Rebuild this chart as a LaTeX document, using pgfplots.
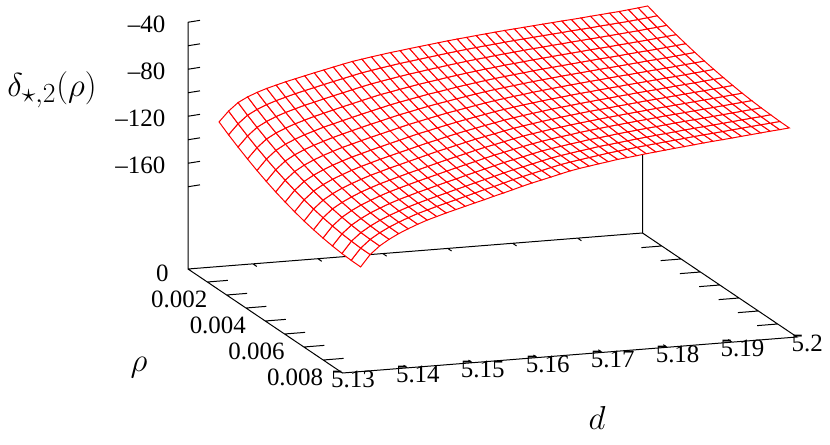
\documentclass[border=0pt]{standalone}
\usepackage{fontspec}
\setmainfont{Liberation Serif}
\usepackage{pgfplots}
\pgfplotsset{compat=1.18}
\begin{document}
\begin{tikzpicture}
\useasboundingbox (0,0) rectangle (622.5pt,333.75pt);
\begin{axis}[
  at={(141pt,54pt)},anchor=south west,
  x={(4869.6pt,385.7pt)},y={(14484.4pt,-9750pt)},z={(0pt,0.88125pt)},
  xmin=5.13,xmax=5.2,ymin=0,ymax=0.008,zmin=-250,zmax=-40,
  clip=false,
  axis line style={draw=none},
  major tick length=0pt,
  scaled ticks=false,
  xtick={5.13,5.14,5.15,5.16,5.17,5.18,5.19,5.2},
  xticklabels={5.13,5.14,5.15,5.16,5.17,5.18,5.19,5.2},
  ytick={0,0.002,0.004,0.006,0.008},
  yticklabels={0,0.002,0.004,0.006,0.008},
  ztick={-40,-80,-120,-160},
  zticklabels={--40,--80,--120,--160},
  tick label style={font=\fontsize{18.7}{22}\selectfont},
  xticklabel style={xshift=2pt,yshift=6pt},
  yticklabel style={anchor=east,xshift=-11pt,yshift=-3pt},
  zticklabel style={anchor=east,xshift=-13.5pt,yshift=-1.5pt},
  xlabel={\fontsize{24.88}{28}\selectfont $d$},
  ylabel={\fontsize{24.88}{28}\selectfont $\rho$},
  zlabel={\fontsize{24.88}{28}\selectfont $\delta_{\star,2}(\rho)$},
  every axis x label/.style={at={(rel axis cs:0.3694,1.5605,0)},anchor=center},
  every axis y label/.style={at={(rel axis cs:-0.386,0.8183,0)},anchor=center},
  every axis z label/.style={at={(rel axis cs:-0.2992,0,0.769)},anchor=center,rotate=0},
]
\addplot3[black,line width=0.75pt,unbounded coords=jump] coordinates {
(5.13,0,-40)(5.13,0,-250)(5.2,0,-250)(5.2,0.008,-250)(5.13,0.008,-250)(5.13,0,-250)
(5.13,0,nan)
(5.2,0,-250)(5.2,0,-70)
(5.2,0,nan)
(5.13,0,-60)(5.13185,0,-59.19)(5.13,0,nan)
(5.13,0,-80)(5.13185,0,-79.19)(5.13,0,nan)
(5.13,0,-100)(5.13185,0,-99.19)(5.13,0,nan)
(5.13,0,-120)(5.13185,0,-119.19)(5.13,0,nan)
(5.13,0,-140)(5.13185,0,-139.19)(5.13,0,nan)
(5.13,0,-160)(5.13185,0,-159.19)(5.13,0,nan)
(5.13,0,-180)(5.13185,0,-179.19)(5.13,0,nan)
(5.13,0,-40)(5.13185,0,-39.19)(5.13,0,nan)
(5.13,0.001,-250)(5.13316,0.001,-250)(5.13,0,nan)
(5.13,0.002,-250)(5.13316,0.002,-250)(5.13,0,nan)
(5.13,0.003,-250)(5.13316,0.003,-250)(5.13,0,nan)
(5.13,0.004,-250)(5.13316,0.004,-250)(5.13,0,nan)
(5.13,0.005,-250)(5.13316,0.005,-250)(5.13,0,nan)
(5.13,0.006,-250)(5.13316,0.006,-250)(5.13,0,nan)
(5.13,0.007,-250)(5.13316,0.007,-250)(5.13,0,nan)
(5.2,0.001,-250)(5.19684,0.001,-250)(5.13,0,nan)
(5.2,0.002,-250)(5.19684,0.002,-250)(5.13,0,nan)
(5.2,0.003,-250)(5.19684,0.003,-250)(5.13,0,nan)
(5.2,0.004,-250)(5.19684,0.004,-250)(5.13,0,nan)
(5.2,0.005,-250)(5.19684,0.005,-250)(5.13,0,nan)
(5.2,0.006,-250)(5.19684,0.006,-250)(5.13,0,nan)
(5.2,0.007,-250)(5.19684,0.007,-250)(5.13,0,nan)
(5.14,0,-250)(5.14,0.0002,-250)(5.13,0,nan)
(5.15,0,-250)(5.15,0.0002,-250)(5.13,0,nan)
(5.16,0,-250)(5.16,0.0002,-250)(5.13,0,nan)
(5.17,0,-250)(5.17,0.0002,-250)(5.13,0,nan)
(5.18,0,-250)(5.18,0.0002,-250)(5.13,0,nan)
(5.19,0,-250)(5.19,0.0002,-250)(5.13,0,nan)
(5.14,0.008,-250)(5.14,0.0078,-250)(5.13,0,nan)
(5.15,0.008,-250)(5.15,0.0078,-250)(5.13,0,nan)
(5.16,0.008,-250)(5.16,0.0078,-250)(5.13,0,nan)
(5.17,0.008,-250)(5.17,0.0078,-250)(5.13,0,nan)
(5.18,0.008,-250)(5.18,0.0078,-250)(5.13,0,nan)
(5.19,0.008,-250)(5.19,0.0078,-250)
};
\addplot3[surf,shader=faceted,colormap={allwhite}{color=(white) color=(white)},
  faceted color=red,line width=0.75pt,mesh/ordering=y varies,mesh/rows=16,mesh/cols=46] coordinates {
(5.13398,0.00027,-123.6)(5.13398,0.00076,-129.1)(5.13398,0.00125,-134.1)(5.13398,0.00174,-138.8)(5.13398,0.00223,-143.2)(5.13398,0.00271,-147.1)(5.13398,0.00320,-150.7)(5.13398,0.00369,-153.9)(5.13398,0.00418,-156.7)(5.13398,0.00467,-159.2)(5.13398,0.00516,-161.2)(5.13398,0.00565,-162.9)(5.13398,0.00614,-164.2)(5.13398,0.00663,-165.2)(5.13398,0.00711,-165.7)(5.13398,0.00760,-165.9)
(5.13545,0.00027,-115.0)(5.13545,0.00076,-120.3)(5.13545,0.00125,-125.3)(5.13545,0.00174,-129.9)(5.13545,0.00223,-134.1)(5.13545,0.00271,-137.9)(5.13545,0.00320,-141.4)(5.13545,0.00369,-144.5)(5.13545,0.00418,-147.2)(5.13545,0.00467,-149.6)(5.13545,0.00516,-151.6)(5.13545,0.00565,-153.2)(5.13545,0.00614,-154.5)(5.13545,0.00663,-155.3)(5.13545,0.00711,-155.9)(5.13545,0.00760,-156.0)
(5.13691,0.00027,-108.4)(5.13691,0.00076,-113.7)(5.13691,0.00125,-118.6)(5.13691,0.00174,-123.1)(5.13691,0.00223,-127.3)(5.13691,0.00271,-131.1)(5.13691,0.00320,-134.6)(5.13691,0.00369,-137.6)(5.13691,0.00418,-140.4)(5.13691,0.00467,-142.7)(5.13691,0.00516,-144.7)(5.13691,0.00565,-146.4)(5.13691,0.00614,-147.7)(5.13691,0.00663,-148.6)(5.13691,0.00711,-149.1)(5.13691,0.00760,-149.3)
(5.13838,0.00027,-104.2)(5.13838,0.00076,-109.4)(5.13838,0.00125,-114.2)(5.13838,0.00174,-118.6)(5.13838,0.00223,-122.7)(5.13838,0.00271,-126.4)(5.13838,0.00320,-129.8)(5.13838,0.00369,-132.9)(5.13838,0.00418,-135.5)(5.13838,0.00467,-137.8)(5.13838,0.00516,-139.8)(5.13838,0.00565,-141.4)(5.13838,0.00614,-142.7)(5.13838,0.00663,-143.6)(5.13838,0.00711,-144.1)(5.13838,0.00760,-144.3)
(5.13985,0.00027,-101.0)(5.13985,0.00076,-106.0)(5.13985,0.00125,-110.7)(5.13985,0.00174,-115.1)(5.13985,0.00223,-119.1)(5.13985,0.00271,-122.7)(5.13985,0.00320,-126.0)(5.13985,0.00369,-129.0)(5.13985,0.00418,-131.6)(5.13985,0.00467,-133.8)(5.13985,0.00516,-135.8)(5.13985,0.00565,-137.3)(5.13985,0.00614,-138.5)(5.13985,0.00663,-139.4)(5.13985,0.00711,-139.9)(5.13985,0.00760,-140.1)
(5.14132,0.00027,-98.3)(5.14132,0.00076,-103.2)(5.14132,0.00125,-107.8)(5.14132,0.00174,-112.1)(5.14132,0.00223,-116.0)(5.14132,0.00271,-119.6)(5.14132,0.00320,-122.8)(5.14132,0.00369,-125.7)(5.14132,0.00418,-128.3)(5.14132,0.00467,-130.5)(5.14132,0.00516,-132.3)(5.14132,0.00565,-133.9)(5.14132,0.00614,-135.1)(5.14132,0.00663,-135.9)(5.14132,0.00711,-136.4)(5.14132,0.00760,-136.6)
(5.14278,0.00027,-96.1)(5.14278,0.00076,-100.9)(5.14278,0.00125,-105.4)(5.14278,0.00174,-109.6)(5.14278,0.00223,-113.4)(5.14278,0.00271,-116.9)(5.14278,0.00320,-120.0)(5.14278,0.00369,-122.8)(5.14278,0.00418,-125.3)(5.14278,0.00467,-127.5)(5.14278,0.00516,-129.3)(5.14278,0.00565,-130.8)(5.14278,0.00614,-131.9)(5.14278,0.00663,-132.8)(5.14278,0.00711,-133.2)(5.14278,0.00760,-133.4)
(5.14425,0.00027,-93.9)(5.14425,0.00076,-98.6)(5.14425,0.00125,-103.0)(5.14425,0.00174,-107.1)(5.14425,0.00223,-110.8)(5.14425,0.00271,-114.3)(5.14425,0.00320,-117.3)(5.14425,0.00369,-120.1)(5.14425,0.00418,-122.6)(5.14425,0.00467,-124.7)(5.14425,0.00516,-126.5)(5.14425,0.00565,-127.9)(5.14425,0.00614,-129.1)(5.14425,0.00663,-129.9)(5.14425,0.00711,-130.3)(5.14425,0.00760,-130.5)
(5.14572,0.00027,-92.0)(5.14572,0.00076,-96.6)(5.14572,0.00125,-101.0)(5.14572,0.00174,-105.0)(5.14572,0.00223,-108.7)(5.14572,0.00271,-112.0)(5.14572,0.00320,-115.1)(5.14572,0.00369,-117.8)(5.14572,0.00418,-120.2)(5.14572,0.00467,-122.3)(5.14572,0.00516,-124.1)(5.14572,0.00565,-125.5)(5.14572,0.00614,-126.6)(5.14572,0.00663,-127.4)(5.14572,0.00711,-127.9)(5.14572,0.00760,-128.1)
(5.14718,0.00027,-90.1)(5.14718,0.00076,-94.7)(5.14718,0.00125,-98.9)(5.14718,0.00174,-102.9)(5.14718,0.00223,-106.5)(5.14718,0.00271,-109.8)(5.14718,0.00320,-112.8)(5.14718,0.00369,-115.5)(5.14718,0.00418,-117.8)(5.14718,0.00467,-119.9)(5.14718,0.00516,-121.7)(5.14718,0.00565,-123.1)(5.14718,0.00614,-124.2)(5.14718,0.00663,-125.0)(5.14718,0.00711,-125.5)(5.14718,0.00760,-125.7)
(5.14865,0.00027,-88.2)(5.14865,0.00076,-92.7)(5.14865,0.00125,-96.9)(5.14865,0.00174,-100.8)(5.14865,0.00223,-104.4)(5.14865,0.00271,-107.6)(5.14865,0.00320,-110.6)(5.14865,0.00369,-113.3)(5.14865,0.00418,-115.6)(5.14865,0.00467,-117.7)(5.14865,0.00516,-119.4)(5.14865,0.00565,-120.8)(5.14865,0.00614,-122.0)(5.14865,0.00663,-122.8)(5.14865,0.00711,-123.3)(5.14865,0.00760,-123.5)
(5.15012,0.00027,-86.4)(5.15012,0.00076,-90.8)(5.15012,0.00125,-95.0)(5.15012,0.00174,-98.8)(5.15012,0.00223,-102.3)(5.15012,0.00271,-105.5)(5.15012,0.00320,-108.5)(5.15012,0.00369,-111.1)(5.15012,0.00418,-113.4)(5.15012,0.00467,-115.5)(5.15012,0.00516,-117.2)(5.15012,0.00565,-118.6)(5.15012,0.00614,-119.7)(5.15012,0.00663,-120.6)(5.15012,0.00711,-121.1)(5.15012,0.00760,-121.3)
(5.15159,0.00027,-84.6)(5.15159,0.00076,-89.0)(5.15159,0.00125,-93.0)(5.15159,0.00174,-96.8)(5.15159,0.00223,-100.3)(5.15159,0.00271,-103.5)(5.15159,0.00320,-106.4)(5.15159,0.00369,-109.0)(5.15159,0.00418,-111.3)(5.15159,0.00467,-113.3)(5.15159,0.00516,-115.0)(5.15159,0.00565,-116.4)(5.15159,0.00614,-117.5)(5.15159,0.00663,-118.3)(5.15159,0.00711,-118.9)(5.15159,0.00760,-119.1)
(5.15305,0.00027,-82.8)(5.15305,0.00076,-87.1)(5.15305,0.00125,-91.1)(5.15305,0.00174,-94.8)(5.15305,0.00223,-98.3)(5.15305,0.00271,-101.4)(5.15305,0.00320,-104.3)(5.15305,0.00369,-106.8)(5.15305,0.00418,-109.1)(5.15305,0.00467,-111.1)(5.15305,0.00516,-112.8)(5.15305,0.00565,-114.2)(5.15305,0.00614,-115.4)(5.15305,0.00663,-116.2)(5.15305,0.00711,-116.7)(5.15305,0.00760,-117.0)
(5.15452,0.00027,-81.1)(5.15452,0.00076,-85.3)(5.15452,0.00125,-89.3)(5.15452,0.00174,-92.9)(5.15452,0.00223,-96.3)(5.15452,0.00271,-99.4)(5.15452,0.00320,-102.2)(5.15452,0.00369,-104.7)(5.15452,0.00418,-107.0)(5.15452,0.00467,-108.9)(5.15452,0.00516,-110.6)(5.15452,0.00565,-112.0)(5.15452,0.00614,-113.1)(5.15452,0.00663,-113.9)(5.15452,0.00711,-114.4)(5.15452,0.00760,-114.7)
(5.15599,0.00027,-79.8)(5.15599,0.00076,-83.9)(5.15599,0.00125,-87.8)(5.15599,0.00174,-91.4)(5.15599,0.00223,-94.6)(5.15599,0.00271,-97.7)(5.15599,0.00320,-100.4)(5.15599,0.00369,-102.9)(5.15599,0.00418,-105.1)(5.15599,0.00467,-107.0)(5.15599,0.00516,-108.6)(5.15599,0.00565,-110.0)(5.15599,0.00614,-111.0)(5.15599,0.00663,-111.8)(5.15599,0.00711,-112.4)(5.15599,0.00760,-112.6)
(5.15745,0.00027,-78.5)(5.15745,0.00076,-82.5)(5.15745,0.00125,-86.3)(5.15745,0.00174,-89.8)(5.15745,0.00223,-93.0)(5.15745,0.00271,-95.9)(5.15745,0.00320,-98.6)(5.15745,0.00369,-101.0)(5.15745,0.00418,-103.1)(5.15745,0.00467,-105.0)(5.15745,0.00516,-106.6)(5.15745,0.00565,-107.9)(5.15745,0.00614,-108.9)(5.15745,0.00663,-109.7)(5.15745,0.00711,-110.2)(5.15745,0.00760,-110.4)
(5.15892,0.00027,-77.3)(5.15892,0.00076,-81.2)(5.15892,0.00125,-84.9)(5.15892,0.00174,-88.3)(5.15892,0.00223,-91.4)(5.15892,0.00271,-94.2)(5.15892,0.00320,-96.8)(5.15892,0.00369,-99.2)(5.15892,0.00418,-101.2)(5.15892,0.00467,-103.0)(5.15892,0.00516,-104.5)(5.15892,0.00565,-105.8)(5.15892,0.00614,-106.8)(5.15892,0.00663,-107.5)(5.15892,0.00711,-107.9)(5.15892,0.00760,-108.1)
(5.16039,0.00027,-76.1)(5.16039,0.00076,-79.9)(5.16039,0.00125,-83.5)(5.16039,0.00174,-86.8)(5.16039,0.00223,-89.8)(5.16039,0.00271,-92.6)(5.16039,0.00320,-95.1)(5.16039,0.00369,-97.4)(5.16039,0.00418,-99.4)(5.16039,0.00467,-101.1)(5.16039,0.00516,-102.6)(5.16039,0.00565,-103.8)(5.16039,0.00614,-104.7)(5.16039,0.00663,-105.4)(5.16039,0.00711,-105.9)(5.16039,0.00760,-106.0)
(5.16186,0.00027,-75.1)(5.16186,0.00076,-78.8)(5.16186,0.00125,-82.3)(5.16186,0.00174,-85.5)(5.16186,0.00223,-88.5)(5.16186,0.00271,-91.2)(5.16186,0.00320,-93.6)(5.16186,0.00369,-95.8)(5.16186,0.00418,-97.8)(5.16186,0.00467,-99.4)(5.16186,0.00516,-100.9)(5.16186,0.00565,-102.0)(5.16186,0.00614,-102.9)(5.16186,0.00663,-103.6)(5.16186,0.00711,-104.0)(5.16186,0.00760,-104.1)
(5.16332,0.00027,-74.0)(5.16332,0.00076,-77.7)(5.16332,0.00125,-81.0)(5.16332,0.00174,-84.2)(5.16332,0.00223,-87.1)(5.16332,0.00271,-89.7)(5.16332,0.00320,-92.1)(5.16332,0.00369,-94.2)(5.16332,0.00418,-96.1)(5.16332,0.00467,-97.8)(5.16332,0.00516,-99.1)(5.16332,0.00565,-100.2)(5.16332,0.00614,-101.1)(5.16332,0.00663,-101.7)(5.16332,0.00711,-102.1)(5.16332,0.00760,-102.2)
(5.16479,0.00027,-73.0)(5.16479,0.00076,-76.6)(5.16479,0.00125,-79.9)(5.16479,0.00174,-82.9)(5.16479,0.00223,-85.7)(5.16479,0.00271,-88.3)(5.16479,0.00320,-90.6)(5.16479,0.00369,-92.7)(5.16479,0.00418,-94.5)(5.16479,0.00467,-96.0)(5.16479,0.00516,-97.3)(5.16479,0.00565,-98.4)(5.16479,0.00614,-99.2)(5.16479,0.00663,-99.8)(5.16479,0.00711,-100.1)(5.16479,0.00760,-100.2)
(5.16626,0.00027,-72.0)(5.16626,0.00076,-75.5)(5.16626,0.00125,-78.7)(5.16626,0.00174,-81.7)(5.16626,0.00223,-84.4)(5.16626,0.00271,-86.9)(5.16626,0.00320,-89.1)(5.16626,0.00369,-91.1)(5.16626,0.00418,-92.9)(5.16626,0.00467,-94.4)(5.16626,0.00516,-95.6)(5.16626,0.00565,-96.7)(5.16626,0.00614,-97.4)(5.16626,0.00663,-98.0)(5.16626,0.00711,-98.3)(5.16626,0.00760,-98.3)
(5.16772,0.00027,-71.0)(5.16772,0.00076,-74.4)(5.16772,0.00125,-77.6)(5.16772,0.00174,-80.5)(5.16772,0.00223,-83.2)(5.16772,0.00271,-85.6)(5.16772,0.00320,-87.8)(5.16772,0.00369,-89.8)(5.16772,0.00418,-91.5)(5.16772,0.00467,-93.0)(5.16772,0.00516,-94.2)(5.16772,0.00565,-95.2)(5.16772,0.00614,-96.0)(5.16772,0.00663,-96.5)(5.16772,0.00711,-96.8)(5.16772,0.00760,-96.8)
(5.16919,0.00027,-70.0)(5.16919,0.00076,-73.4)(5.16919,0.00125,-76.5)(5.16919,0.00174,-79.4)(5.16919,0.00223,-82.0)(5.16919,0.00271,-84.4)(5.16919,0.00320,-86.6)(5.16919,0.00369,-88.5)(5.16919,0.00418,-90.2)(5.16919,0.00467,-91.7)(5.16919,0.00516,-92.9)(5.16919,0.00565,-93.9)(5.16919,0.00614,-94.7)(5.16919,0.00663,-95.2)(5.16919,0.00711,-95.5)(5.16919,0.00760,-95.5)
(5.17066,0.00027,-69.1)(5.17066,0.00076,-72.4)(5.17066,0.00125,-75.5)(5.17066,0.00174,-78.3)(5.17066,0.00223,-80.9)(5.17066,0.00271,-83.3)(5.17066,0.00320,-85.4)(5.17066,0.00369,-87.3)(5.17066,0.00418,-89.0)(5.17066,0.00467,-90.4)(5.17066,0.00516,-91.6)(5.17066,0.00565,-92.6)(5.17066,0.00614,-93.4)(5.17066,0.00663,-93.9)(5.17066,0.00711,-94.2)(5.17066,0.00760,-94.2)
(5.17212,0.00027,-68.3)(5.17212,0.00076,-71.5)(5.17212,0.00125,-74.6)(5.17212,0.00174,-77.4)(5.17212,0.00223,-79.9)(5.17212,0.00271,-82.3)(5.17212,0.00320,-84.4)(5.17212,0.00369,-86.2)(5.17212,0.00418,-87.9)(5.17212,0.00467,-89.3)(5.17212,0.00516,-90.5)(5.17212,0.00565,-91.5)(5.17212,0.00614,-92.2)(5.17212,0.00663,-92.7)(5.17212,0.00711,-93.0)(5.17212,0.00760,-93.0)
(5.17359,0.00027,-67.4)(5.17359,0.00076,-70.6)(5.17359,0.00125,-73.6)(5.17359,0.00174,-76.3)(5.17359,0.00223,-78.9)(5.17359,0.00271,-81.2)(5.17359,0.00320,-83.2)(5.17359,0.00369,-85.1)(5.17359,0.00418,-86.7)(5.17359,0.00467,-88.1)(5.17359,0.00516,-89.3)(5.17359,0.00565,-90.2)(5.17359,0.00614,-90.9)(5.17359,0.00663,-91.4)(5.17359,0.00711,-91.7)(5.17359,0.00760,-91.7)
(5.17506,0.00027,-66.6)(5.17506,0.00076,-69.8)(5.17506,0.00125,-72.7)(5.17506,0.00174,-75.5)(5.17506,0.00223,-78.0)(5.17506,0.00271,-80.2)(5.17506,0.00320,-82.3)(5.17506,0.00369,-84.1)(5.17506,0.00418,-85.7)(5.17506,0.00467,-87.1)(5.17506,0.00516,-88.3)(5.17506,0.00565,-89.2)(5.17506,0.00614,-90.0)(5.17506,0.00663,-90.5)(5.17506,0.00711,-90.7)(5.17506,0.00760,-90.8)
(5.17652,0.00027,-65.8)(5.17652,0.00076,-68.9)(5.17652,0.00125,-71.9)(5.17652,0.00174,-74.6)(5.17652,0.00223,-77.0)(5.17652,0.00271,-79.3)(5.17652,0.00320,-81.3)(5.17652,0.00369,-83.2)(5.17652,0.00418,-84.8)(5.17652,0.00467,-86.1)(5.17652,0.00516,-87.3)(5.17652,0.00565,-88.2)(5.17652,0.00614,-89.0)(5.17652,0.00663,-89.5)(5.17652,0.00711,-89.7)(5.17652,0.00760,-89.8)
(5.17799,0.00027,-65.0)(5.17799,0.00076,-68.1)(5.17799,0.00125,-71.0)(5.17799,0.00174,-73.7)(5.17799,0.00223,-76.1)(5.17799,0.00271,-78.4)(5.17799,0.00320,-80.4)(5.17799,0.00369,-82.2)(5.17799,0.00418,-83.8)(5.17799,0.00467,-85.1)(5.17799,0.00516,-86.3)(5.17799,0.00565,-87.2)(5.17799,0.00614,-87.9)(5.17799,0.00663,-88.5)(5.17799,0.00711,-88.7)(5.17799,0.00760,-88.8)
(5.17946,0.00027,-64.3)(5.17946,0.00076,-67.4)(5.17946,0.00125,-70.2)(5.17946,0.00174,-72.9)(5.17946,0.00223,-75.3)(5.17946,0.00271,-77.5)(5.17946,0.00320,-79.5)(5.17946,0.00369,-81.3)(5.17946,0.00418,-82.9)(5.17946,0.00467,-84.3)(5.17946,0.00516,-85.4)(5.17946,0.00565,-86.3)(5.17946,0.00614,-87.0)(5.17946,0.00663,-87.5)(5.17946,0.00711,-87.8)(5.17946,0.00760,-87.9)
(5.18093,0.00027,-63.6)(5.18093,0.00076,-66.6)(5.18093,0.00125,-69.5)(5.18093,0.00174,-72.1)(5.18093,0.00223,-74.5)(5.18093,0.00271,-76.7)(5.18093,0.00320,-78.7)(5.18093,0.00369,-80.5)(5.18093,0.00418,-82.0)(5.18093,0.00467,-83.4)(5.18093,0.00516,-84.5)(5.18093,0.00565,-85.4)(5.18093,0.00614,-86.1)(5.18093,0.00663,-86.6)(5.18093,0.00711,-86.9)(5.18093,0.00760,-87.0)
(5.18239,0.00027,-62.9)(5.18239,0.00076,-65.9)(5.18239,0.00125,-68.7)(5.18239,0.00174,-71.3)(5.18239,0.00223,-73.7)(5.18239,0.00271,-75.9)(5.18239,0.00320,-77.8)(5.18239,0.00369,-79.6)(5.18239,0.00418,-81.2)(5.18239,0.00467,-82.5)(5.18239,0.00516,-83.6)(5.18239,0.00565,-84.5)(5.18239,0.00614,-85.2)(5.18239,0.00663,-85.7)(5.18239,0.00711,-86.0)(5.18239,0.00760,-86.1)
(5.18386,0.00027,-62.2)(5.18386,0.00076,-65.2)(5.18386,0.00125,-68.0)(5.18386,0.00174,-70.6)(5.18386,0.00223,-72.9)(5.18386,0.00271,-75.1)(5.18386,0.00320,-77.1)(5.18386,0.00369,-78.8)(5.18386,0.00418,-80.3)(5.18386,0.00467,-81.7)(5.18386,0.00516,-82.8)(5.18386,0.00565,-83.7)(5.18386,0.00614,-84.4)(5.18386,0.00663,-84.9)(5.18386,0.00711,-85.2)(5.18386,0.00760,-85.3)
(5.18533,0.00027,-61.5)(5.18533,0.00076,-64.5)(5.18533,0.00125,-67.2)(5.18533,0.00174,-69.8)(5.18533,0.00223,-72.1)(5.18533,0.00271,-74.3)(5.18533,0.00320,-76.2)(5.18533,0.00369,-78.0)(5.18533,0.00418,-79.5)(5.18533,0.00467,-80.8)(5.18533,0.00516,-81.9)(5.18533,0.00565,-82.8)(5.18533,0.00614,-83.5)(5.18533,0.00663,-84.0)(5.18533,0.00711,-84.3)(5.18533,0.00760,-84.4)
(5.18679,0.00027,-60.8)(5.18679,0.00076,-63.7)(5.18679,0.00125,-66.5)(5.18679,0.00174,-69.0)(5.18679,0.00223,-71.3)(5.18679,0.00271,-73.5)(5.18679,0.00320,-75.4)(5.18679,0.00369,-77.1)(5.18679,0.00418,-78.6)(5.18679,0.00467,-79.9)(5.18679,0.00516,-81.0)(5.18679,0.00565,-81.9)(5.18679,0.00614,-82.6)(5.18679,0.00663,-83.1)(5.18679,0.00711,-83.4)(5.18679,0.00760,-83.5)
(5.18826,0.00027,-60.2)(5.18826,0.00076,-63.1)(5.18826,0.00125,-65.8)(5.18826,0.00174,-68.3)(5.18826,0.00223,-70.7)(5.18826,0.00271,-72.8)(5.18826,0.00320,-74.7)(5.18826,0.00369,-76.4)(5.18826,0.00418,-77.9)(5.18826,0.00467,-79.2)(5.18826,0.00516,-80.3)(5.18826,0.00565,-81.2)(5.18826,0.00614,-81.8)(5.18826,0.00663,-82.3)(5.18826,0.00711,-82.6)(5.18826,0.00760,-82.7)
(5.18973,0.00027,-59.5)(5.18973,0.00076,-62.4)(5.18973,0.00125,-65.1)(5.18973,0.00174,-67.6)(5.18973,0.00223,-69.9)(5.18973,0.00271,-72.0)(5.18973,0.00320,-73.9)(5.18973,0.00369,-75.6)(5.18973,0.00418,-77.1)(5.18973,0.00467,-78.4)(5.18973,0.00516,-79.5)(5.18973,0.00565,-80.4)(5.18973,0.00614,-81.1)(5.18973,0.00663,-81.6)(5.18973,0.00711,-81.9)(5.18973,0.00760,-82.0)
(5.19120,0.00027,-58.7)(5.19120,0.00076,-61.6)(5.19120,0.00125,-64.3)(5.19120,0.00174,-66.8)(5.19120,0.00223,-69.1)(5.19120,0.00271,-71.2)(5.19120,0.00320,-73.1)(5.19120,0.00369,-74.8)(5.19120,0.00418,-76.3)(5.19120,0.00467,-77.6)(5.19120,0.00516,-78.7)(5.19120,0.00565,-79.6)(5.19120,0.00614,-80.3)(5.19120,0.00663,-80.8)(5.19120,0.00711,-81.1)(5.19120,0.00760,-81.2)
(5.19266,0.00027,-58.0)(5.19266,0.00076,-60.9)(5.19266,0.00125,-63.6)(5.19266,0.00174,-66.1)(5.19266,0.00223,-68.3)(5.19266,0.00271,-70.4)(5.19266,0.00320,-72.3)(5.19266,0.00369,-74.0)(5.19266,0.00418,-75.5)(5.19266,0.00467,-76.8)(5.19266,0.00516,-77.9)(5.19266,0.00565,-78.8)(5.19266,0.00614,-79.5)(5.19266,0.00663,-80.0)(5.19266,0.00711,-80.3)(5.19266,0.00760,-80.4)
(5.19413,0.00027,-57.3)(5.19413,0.00076,-60.2)(5.19413,0.00125,-62.8)(5.19413,0.00174,-65.3)(5.19413,0.00223,-67.6)(5.19413,0.00271,-69.7)(5.19413,0.00320,-71.6)(5.19413,0.00369,-73.3)(5.19413,0.00418,-74.7)(5.19413,0.00467,-76.0)(5.19413,0.00516,-77.1)(5.19413,0.00565,-78.0)(5.19413,0.00614,-78.7)(5.19413,0.00663,-79.2)(5.19413,0.00711,-79.5)(5.19413,0.00760,-79.6)
(5.19560,0.00027,-56.6)(5.19560,0.00076,-59.5)(5.19560,0.00125,-62.1)(5.19560,0.00174,-64.6)(5.19560,0.00223,-66.9)(5.19560,0.00271,-68.9)(5.19560,0.00320,-70.8)(5.19560,0.00369,-72.5)(5.19560,0.00418,-74.0)(5.19560,0.00467,-75.3)(5.19560,0.00516,-76.3)(5.19560,0.00565,-77.2)(5.19560,0.00614,-77.9)(5.19560,0.00663,-78.4)(5.19560,0.00711,-78.7)(5.19560,0.00760,-78.8)
(5.19706,0.00027,-55.7)(5.19706,0.00076,-58.6)(5.19706,0.00125,-61.2)(5.19706,0.00174,-63.7)(5.19706,0.00223,-66.0)(5.19706,0.00271,-68.1)(5.19706,0.00320,-69.9)(5.19706,0.00369,-71.6)(5.19706,0.00418,-73.1)(5.19706,0.00467,-74.4)(5.19706,0.00516,-75.5)(5.19706,0.00565,-76.4)(5.19706,0.00614,-77.1)(5.19706,0.00663,-77.6)(5.19706,0.00711,-77.9)(5.19706,0.00760,-78.0)
(5.19853,0.00027,-54.8)(5.19853,0.00076,-57.7)(5.19853,0.00125,-60.4)(5.19853,0.00174,-62.8)(5.19853,0.00223,-65.1)(5.19853,0.00271,-67.2)(5.19853,0.00320,-69.1)(5.19853,0.00369,-70.8)(5.19853,0.00418,-72.3)(5.19853,0.00467,-73.6)(5.19853,0.00516,-74.7)(5.19853,0.00565,-75.6)(5.19853,0.00614,-76.3)(5.19853,0.00663,-76.9)(5.19853,0.00711,-77.2)(5.19853,0.00760,-77.3)
(5.20000,0.00027,-53.8)(5.20000,0.00076,-56.7)(5.20000,0.00125,-59.4)(5.20000,0.00174,-61.9)(5.20000,0.00223,-64.2)(5.20000,0.00271,-66.3)(5.20000,0.00320,-68.2)(5.20000,0.00369,-69.9)(5.20000,0.00418,-71.4)(5.20000,0.00467,-72.7)(5.20000,0.00516,-73.9)(5.20000,0.00565,-74.8)(5.20000,0.00614,-75.5)(5.20000,0.00663,-76.0)(5.20000,0.00711,-76.4)(5.20000,0.00760,-76.5)
};
\end{axis}
\end{tikzpicture}
\end{document}
